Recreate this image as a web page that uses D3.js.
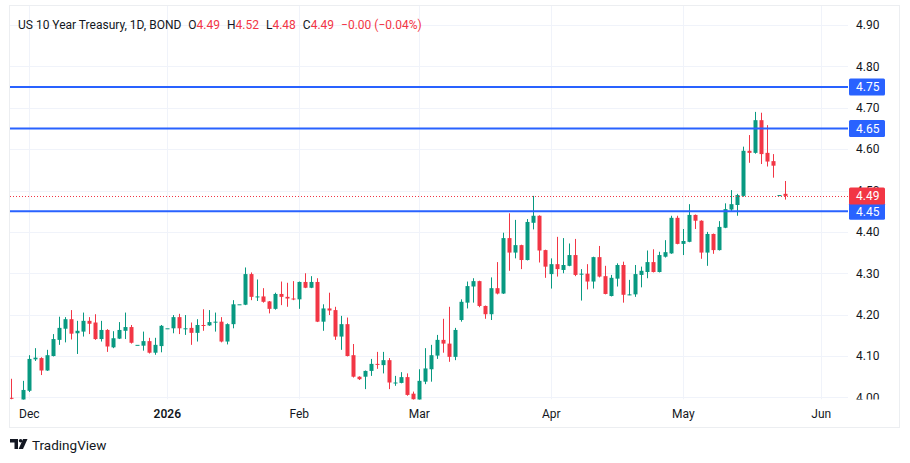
<!DOCTYPE html>
<html>
<head>
<meta charset="utf-8">
<script src="https://cdn.jsdelivr.net/npm/d3@7"></script>
<style>
  body { margin: 0; background: #fff; }
  svg { display: block; font-family: Roboto, "Noto Sans", sans-serif; }
</style>
</head>
<body>
<div id="chart"></div>
<script>
// daily candles, 26 Nov 2025 -> 26 May 2026 (one entry per weekday, null = no bar)
const opens = [
  3.999, null, 3.990, 4.016, 4.092, 4.095, 4.065, 4.100, 4.139, 4.166,
  4.189, 4.155, 4.159, 4.185, 4.181, 4.141, 4.163, 4.121, 4.142, 4.161,
  4.170, 4.127, 4.125, 4.136, 4.108, 4.124, 4.167, 4.167, 4.194, 4.166,
  4.168, 4.156, 4.175, 4.174, 4.181, 4.183, 4.135, 4.177, 4.225, 4.224,
  4.298, 4.243, 4.244, 4.232, 4.214, 4.250, 4.243, 4.239, 4.237, 4.279,
  4.265, 4.279, 4.183, 4.215, 4.211, 4.147, 4.177, 4.102, 4.050, 4.050,
  4.064, 4.081, 4.078, 4.090, 4.035, 4.035, 4.049, 4.009, 3.990, 4.038,
  4.068, 4.101, 4.139, 4.130, 4.098, 4.187, 4.229, 4.268, 4.281, 4.221,
  4.201, 4.264, 4.251, 4.385, 4.350, 4.368, 4.332, 4.422, 4.439, 4.356,
  4.298, 4.322, 4.308, 4.318, 4.344, 4.298, 4.299, 4.280, 4.339, 4.293,
  4.245, 4.287, 4.320, 4.248, 4.249, 4.296, 4.303, 4.327, 4.303, 4.340,
  4.348, 4.434, 4.371, 4.376, 4.441, 4.427, 4.350, 4.395, 4.356, 4.410,
  4.454, 4.465, 4.487, 4.596, 4.591, 4.670, 4.591, 4.571, 4.489, 4.492
];
const highs = [
  4.045, null, 4.040, 4.102, 4.119, 4.097, 4.115, 4.153, 4.195, 4.194,
  4.211, 4.185, 4.205, 4.194, 4.201, 4.185, 4.165, 4.160, 4.182, 4.205,
  4.175, 4.127, 4.159, 4.144, 4.144, 4.175, 4.167, 4.199, 4.202, 4.199,
  4.181, 4.189, 4.213, 4.211, 4.205, 4.194, 4.179, 4.235, 4.225, 4.314,
  4.302, 4.285, 4.264, 4.233, 4.253, 4.280, 4.277, 4.281, 4.280, 4.300,
  4.293, 4.288, 4.225, 4.253, 4.219, 4.197, 4.193, 4.129, 4.051, 4.065,
  4.093, 4.110, 4.110, 4.095, 4.052, 4.061, 4.058, 4.014, 4.068, 4.119,
  4.127, 4.151, 4.190, 4.219, 4.168, 4.237, 4.280, 4.288, 4.282, 4.222,
  4.290, 4.327, 4.398, 4.445, 4.429, 4.369, 4.431, 4.487, 4.440, 4.357,
  4.336, 4.388, 4.385, 4.372, 4.383, 4.310, 4.322, 4.340, 4.366, 4.318,
  4.296, 4.324, 4.328, 4.284, 4.320, 4.316, 4.355, 4.358, 4.352, 4.380,
  4.439, 4.439, 4.407, 4.467, 4.442, 4.428, 4.400, 4.396, 4.426, 4.469,
  4.501, 4.492, 4.606, 4.634, 4.690, 4.688, 4.658, 4.588, 4.489, 4.523
];
const lows = [
  3.995, null, 3.985, 4.013, 4.088, 4.054, 4.064, 4.099, 4.127, 4.133,
  4.140, 4.105, 4.147, 4.153, 4.139, 4.135, 4.110, 4.119, 4.141, 4.141,
  4.130, 4.127, 4.113, 4.106, 4.103, 4.109, 4.167, 4.155, 4.153, 4.151,
  4.127, 4.135, 4.161, 4.173, 4.159, 4.133, 4.128, 4.167, 4.225, 4.223,
  4.235, 4.233, 4.229, 4.203, 4.212, 4.223, 4.219, 4.235, 4.214, 4.264,
  4.264, 4.182, 4.161, 4.199, 4.139, 4.115, 4.099, 4.048, 4.042, 4.020,
  4.052, 4.069, 4.058, 4.020, 4.028, 4.034, 4.004, 3.990, 3.985, 4.032,
  4.038, 4.093, 4.108, 4.086, 4.090, 4.183, 4.215, 4.229, 4.218, 4.190,
  4.187, 4.249, 4.250, 4.306, 4.336, 4.310, 4.331, 4.406, 4.326, 4.289,
  4.263, 4.292, 4.300, 4.317, 4.293, 4.234, 4.261, 4.263, 4.290, 4.249,
  4.244, 4.268, 4.229, 4.247, 4.243, 4.266, 4.288, 4.302, 4.302, 4.338,
  4.347, 4.370, 4.344, 4.375, 4.407, 4.335, 4.318, 4.347, 4.355, 4.409,
  4.450, 4.439, 4.485, 4.567, 4.589, 4.564, 4.558, 4.531, 4.489, 4.478
];
const closes = [
  3.997, null, 4.018, 4.093, 4.096, 4.065, 4.102, 4.141, 4.168, 4.189,
  4.154, 4.161, 4.185, 4.178, 4.141, 4.163, 4.123, 4.143, 4.163, 4.170,
  4.132, 4.127, 4.136, 4.108, 4.127, 4.173, 4.167, 4.194, 4.167, 4.167,
  4.156, 4.175, 4.173, 4.182, 4.183, 4.135, 4.177, 4.225, 4.225, 4.298,
  4.243, 4.244, 4.231, 4.214, 4.250, 4.243, 4.239, 4.238, 4.279, 4.265,
  4.279, 4.183, 4.215, 4.210, 4.147, 4.177, 4.100, 4.050, 4.044, 4.064,
  4.081, 4.080, 4.090, 4.036, 4.036, 4.049, 4.006, 3.995, 4.040, 4.070,
  4.102, 4.139, 4.130, 4.098, 4.163, 4.231, 4.269, 4.281, 4.221, 4.201,
  4.264, 4.251, 4.385, 4.350, 4.368, 4.332, 4.424, 4.439, 4.355, 4.316,
  4.322, 4.310, 4.320, 4.344, 4.296, 4.299, 4.280, 4.339, 4.292, 4.250,
  4.289, 4.320, 4.248, 4.249, 4.298, 4.306, 4.327, 4.303, 4.344, 4.351,
  4.434, 4.371, 4.378, 4.441, 4.427, 4.350, 4.395, 4.356, 4.412, 4.455,
  4.467, 4.489, 4.596, 4.591, 4.670, 4.588, 4.570, 4.560, 4.489, 4.487
];

// month labels on the time scale (bar index where they sit)
const monthLabels = ["Dec", "2026", "Feb", "Mar", "Apr", "May", "Jun"];
const monthBars = [3, 26, 48, 68, 90, 112, 135];

// price scale ticks and the drawn horizontal levels
const priceTicks = [4.0, 4.1, 4.2, 4.3, 4.4, 4.5, 4.6, 4.7, 4.8, 4.9];
const levels = [4.75, 4.65, 4.45];

const legendTitle = "US 10 Year Treasury, 1D, BOND";
const legendValues = [["O", "4.49"], ["H", "4.52"], ["L", "4.48"], ["C", "4.49"]];
const legendChange = "\u22120.00 (\u22120.04%)";

const W = 910, H = 463;
const plot = { left: 10, right: 848, top: 6, bottom: 399.5 };
const up = "#089981", down = "#f23645", blue = "#2962ff", gridCol = "#f0f3fa", textCol = "#131722";

const bars = opens.map((o, i) => ({ i, o, h: highs[i], l: lows[i], c: closes[i] }))
  .filter(d => d.o != null);

const svg = d3.select("#chart").append("svg")
  .attr("width", W)
  .attr("height", H);

// outer frame
svg.append("rect")
  .attr("x", 9.5).attr("y", 5.5)
  .attr("width", 890).attr("height", 422)
  .attr("fill", "none")
  .attr("stroke", "#eceef1");

const x = d3.scaleLinear().domain([-0.22, 139.45]).range([plot.left, plot.right]);
const y = d3.scaleLinear().domain([4.0, 4.9]).range([397.4, 25]);

svg.append("clipPath").attr("id", "plotclip")
  .append("rect")
  .attr("x", plot.left).attr("y", plot.top)
  .attr("width", plot.right - plot.left).attr("height", plot.bottom - plot.top);

const g = svg.append("g").attr("clip-path", "url(#plotclip)");

// grid
g.selectAll(".hgrid").data(priceTicks).join("line")
  .attr("x1", plot.left).attr("x2", plot.right)
  .attr("y1", d => Math.round(y(d)) + 0.5).attr("y2", d => Math.round(y(d)) + 0.5)
  .attr("stroke", gridCol);

g.selectAll(".vgrid").data(monthBars).join("line")
  .attr("x1", d => Math.round(x(d)) + 0.5).attr("x2", d => Math.round(x(d)) + 0.5)
  .attr("y1", plot.top).attr("y2", plot.bottom)
  .attr("stroke", gridCol);

// candles
const candle = g.selectAll(".candle").data(bars).join("g");
const cx = d => Math.round(x(d.i));

candle.append("line")
  .attr("x1", d => cx(d) + 0.5).attr("x2", d => cx(d) + 0.5)
  .attr("y1", d => y(d.h)).attr("y2", d => y(d.l))
  .attr("stroke", d => d.c >= d.o ? up : down);

candle.append("rect")
  .attr("x", d => cx(d) - 1.5)
  .attr("width", 4)
  .attr("y", d => y(Math.max(d.o, d.c)))
  .attr("height", d => Math.max(1, Math.abs(y(d.o) - y(d.c))))
  .attr("fill", d => d.c >= d.o ? up : down);

// horizontal levels
g.selectAll(".level").data(levels).join("line")
  .attr("x1", plot.left).attr("x2", plot.right)
  .attr("y1", d => y(d)).attr("y2", d => y(d))
  .attr("stroke", blue)
  .attr("stroke-width", 2);

// last price line
const last = bars[bars.length - 1];
g.append("line")
  .attr("x1", plot.left).attr("x2", plot.right)
  .attr("y1", Math.round(y(last.c)) + 0.5).attr("y2", Math.round(y(last.c)) + 0.5)
  .attr("stroke", down)
  .attr("stroke-dasharray", "1,2");

// price scale (labels hidden by a price tag are cut, like on the terminal)
svg.append("clipPath").attr("id", "axisclip")
  .append("rect")
  .attr("x", plot.right).attr("y", plot.top)
  .attr("width", 51).attr("height", plot.bottom - plot.top);

const ax = svg.append("g").attr("clip-path", "url(#axisclip)");
const lastTop = y(last.c) - 8.5;
ax.selectAll(".ptick").data(priceTicks).join("text")
  .attr("x", 856)
  .attr("y", d => y(d))
  .attr("dy", "0.36em")
  .attr("font-size", 12)
  .attr("fill", textCol)
  .text(d => d.toFixed(2));

function priceTag(v, color) {
  const ty = y(v);
  ax.append("rect")
    .attr("x", 849).attr("y", ty - 8.5)
    .attr("width", 36).attr("height", 17)
    .attr("rx", 1.5)
    .attr("fill", color);
  ax.append("text")
    .attr("x", 856).attr("y", ty)
    .attr("dy", "0.36em")
    .attr("font-size", 12)
    .attr("fill", "#fff")
    .text(v.toFixed(2));
}
levels.forEach(v => priceTag(v, blue));
priceTag(last.c, down);

// time scale
svg.selectAll(".mlabel").data(monthLabels).join("text")
  .attr("x", (d, i) => x(monthBars[i]))
  .attr("y", 418)
  .attr("text-anchor", "middle")
  .attr("font-size", 12)
  .attr("font-weight", d => d === "2026" ? 600 : 400)
  .attr("fill", textCol)
  .text(d => d);

// legend line
const legend = svg.append("text")
  .attr("x", 18).attr("y", 29)
  .attr("font-size", 12)
  .attr("fill", textCol);
legend.append("tspan").text(legendTitle);
legendValues.forEach(([k, v]) => {
  legend.append("tspan").attr("dx", 7).text(k);
  legend.append("tspan").attr("fill", down).text(v);
});
legend.append("tspan").attr("dx", 7).attr("fill", down).text(legendChange);

// TradingView watermark
const logo = svg.append("g").attr("transform", "translate(10,439)").attr("fill", textCol);
logo.append("path").attr("d", "M0 0H8V10H4.5V3.4H0Z");
logo.append("circle").attr("cx", 10.6).attr("cy", 1.8).attr("r", 1.8);
logo.append("path").attr("d", "M13 0H17.5L13 10H8.6Z");
svg.append("text")
  .attr("x", 32).attr("y", 450)
  .attr("font-size", 13.5)
  .attr("fill", textCol)
  .text("TradingView");
</script>
</body>
</html>
